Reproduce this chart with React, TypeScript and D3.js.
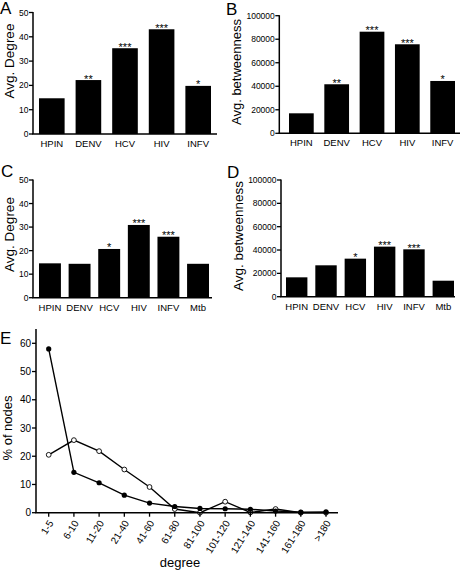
import React from "react";
import * as d3 from "d3";

const catsAB = ["HPIN", "DENV", "HCV", "HIV", "INFV"];
const catsCD = ["HPIN", "DENV", "HCV", "HIV", "INFV", "Mtb"];
const degreeA = [14.7, 22.2, 35.3, 43.1, 19.8];
const starsA = ["", "**", "***", "***", "*"];
const betweenB = [17000, 41700, 86400, 75700, 44500];
const starsB = ["", "**", "***", "***", "*"];
const degreeC = [14.6, 14.4, 20.7, 30.9, 25.9, 14.4];
const starsC = ["", "", "*", "***", "***", ""];
const betweenD = [16600, 26900, 32600, 42900, 40600, 13700];
const starsD = ["", "", "*", "***", "***", ""];
const degreeTicks = [0, 10, 20, 30, 40, 50];
const betweenTicks = [0, 20000, 40000, 60000, 80000, 100000];

const bins = ["1-5", "6-10", "11-20", "21-40", "41-60", "61-80", "81-100", "101-120", "121-140", "141-160", "161-180", ">180"];
const filledSeries = [58, 14.3, 10.6, 6.2, 3.4, 2.2, 1.5, 1.4, 1.2, 0.6, 0.2, 0.3];
const openSeries = [20.5, 25.7, 21.8, 15.3, 9.1, 1.3, 0, 3.9, 0.1, 1.3, 0, 0];
const pctTicks = [0, 10, 20, 30, 40, 50, 60];

const FONT = "'Liberation Sans', Arial, Helvetica, sans-serif";

type BarProps = {
  cats: string[];
  vals: number[];
  stars: string[];
  ticks: number[];
  max: number;
  axisX: number;
  axisEnd: number;
  y0: number;
  yTop: number;
  barStart: number;
  barEnd: number;
  padInner: number;
  title: string;
  titleX: number;
  titleY: number;
  titleSize: number;
  letter: string;
  letterX: number;
  letterY: number;
};

function BarPanel(p: BarProps) {
  const y = d3.scaleLinear().domain([0, p.max]).range([p.y0, p.yTop]);
  const x = d3.scaleBand<string>().domain(p.cats).range([p.barStart, p.barEnd]).paddingInner(p.padInner).paddingOuter(0);
  return (
    <g>
      <text x={p.letterX} y={p.letterY} fontSize={17} fontFamily={FONT}>{p.letter}</text>
      {p.cats.map((c, i) => (
        <rect key={c} x={x(c)} y={y(p.vals[i])} width={x.bandwidth()} height={p.y0 - y(p.vals[i])} fill="#000" />
      ))}
      {p.cats.map((c, i) => (
        <text key={"s" + c} x={(x(c) as number) + x.bandwidth() / 2} y={y(p.vals[i]) + 2.5} fontSize={11} fontFamily={FONT} textAnchor="middle">{p.stars[i]}</text>
      ))}
      <line x1={p.axisX} x2={p.axisX} y1={p.yTop - 0.5} y2={p.y0} stroke="#000" strokeWidth={1.5} />
      <line x1={p.axisX - 0.75} x2={p.axisEnd} y1={p.y0} y2={p.y0} stroke="#000" strokeWidth={1.5} />
      {p.ticks.map((t) => (
        <g key={t}>
          <line x1={p.axisX - 4} x2={p.axisX} y1={y(t)} y2={y(t)} stroke="#000" strokeWidth={1.3} />
          <text x={p.axisX - 4.5} y={y(t) + 3} fontSize={8.5} fontFamily={FONT} textAnchor="end">{t}</text>
        </g>
      ))}
      {p.cats.map((c) => (
        <text key={"l" + c} x={(x(c) as number) + x.bandwidth() / 2} y={p.y0 + 13} fontSize={9.5} fontFamily={FONT} textAnchor="middle">{c}</text>
      ))}
      <text transform={`translate(${p.titleX},${p.titleY}) rotate(-90)`} fontSize={p.titleSize} fontFamily={FONT} textAnchor="middle" dominantBaseline="middle">{p.title}</text>
    </g>
  );
}

function LinePanel() {
  const axisX = 36;
  const axisEnd = 338;
  const y0 = 512.7;
  const y = d3.scaleLinear().domain([0, 60]).range([y0, 343.3]);
  const x = d3.scalePoint<string>().domain(bins).range([48.7, 326]);
  const line = d3.line<number>().x((_, i) => x(bins[i]) as number).y((d) => y(d));
  return (
    <g>
      <text x={0} y={344} fontSize={17} fontFamily={FONT}>E</text>
      <path d={line(openSeries) || ""} fill="none" stroke="#000" strokeWidth={1.4} />
      <path d={line(filledSeries) || ""} fill="none" stroke="#000" strokeWidth={1.4} />
      {openSeries.map((v, i) => (
        <circle key={"o" + i} cx={x(bins[i])} cy={y(v)} r={2.4} fill="#fff" stroke="#000" strokeWidth={0.9} />
      ))}
      {filledSeries.map((v, i) => (
        <circle key={"f" + i} cx={x(bins[i])} cy={y(v)} r={2.6} fill="#000" />
      ))}
      <line x1={axisX} x2={axisX} y1={329} y2={y0} stroke="#000" strokeWidth={1.5} />
      <line x1={axisX - 0.75} x2={axisEnd} y1={y0} y2={y0} stroke="#000" strokeWidth={1.5} />
      {pctTicks.map((t) => (
        <g key={t}>
          <line x1={axisX - 4} x2={axisX} y1={y(t)} y2={y(t)} stroke="#000" strokeWidth={1.3} />
          <text x={axisX - 5} y={y(t) + 3.5} fontSize={10} fontFamily={FONT} textAnchor="end">{t}</text>
        </g>
      ))}
      {bins.map((b) => (
        <g key={b}>
          <line x1={x(b)} x2={x(b)} y1={y0} y2={y0 + 4} stroke="#000" strokeWidth={1.3} />
          <text transform={`translate(${(x(b) as number) + 3},${y0 + 9}) rotate(-58)`} fontSize={10} fontFamily={FONT} textAnchor="end" dominantBaseline="middle">{b}</text>
        </g>
      ))}
      <text transform={`translate(8.5,428) rotate(-90)`} fontSize={13} fontFamily={FONT} textAnchor="middle" dominantBaseline="middle">% of nodes</text>
      <text x={180} y={567} fontSize={13} fontFamily={FONT} textAnchor="middle">degree</text>
    </g>
  );
}

export default function App() {
  return (
    <svg width={461} height={571} style={{ position: "absolute", left: 0, top: 0, background: "#fff" }}>
      <rect width={461} height={571} fill="#fff" />
      <BarPanel cats={catsAB} vals={degreeA} stars={starsA} ticks={degreeTicks} max={50}
        axisX={33} axisEnd={217} y0={134} yTop={12.5} barStart={39} barEnd={211} padInner={0.3}
        title="Avg. Degree" titleX={10} titleY={61} titleSize={13.5} letter="A" letterX={0} letterY={13.5} />
      <BarPanel cats={catsAB} vals={betweenB} stars={starsB} ticks={betweenTicks} max={100000}
        axisX={279.3} axisEnd={460} y0={133.3} yTop={15.7} barStart={289} barEnd={455} padInner={0.3}
        title="Avg. betweenness" titleX={238} titleY={72} titleSize={13} letter="B" letterX={226} letterY={15} />
      <BarPanel cats={catsCD} vals={degreeC} stars={starsC} ticks={degreeTicks} max={50}
        axisX={33} axisEnd={212} y0={297.7} yTop={180} barStart={39} barEnd={209} padInner={0.26}
        title="Avg. Degree" titleX={10} titleY={234.5} titleSize={13.5} letter="C" letterX={1} letterY={177} />
      <BarPanel cats={catsCD} vals={betweenD} stars={starsD} ticks={betweenTicks} max={100000}
        axisX={281} axisEnd={455} y0={296.7} yTop={180} barStart={286} barEnd={454} padInner={0.27}
        title="Avg. betweenness" titleX={239} titleY={236} titleSize={13.5} letter="D" letterX={227} letterY={178} />
      <LinePanel />
    </svg>
  );
}
